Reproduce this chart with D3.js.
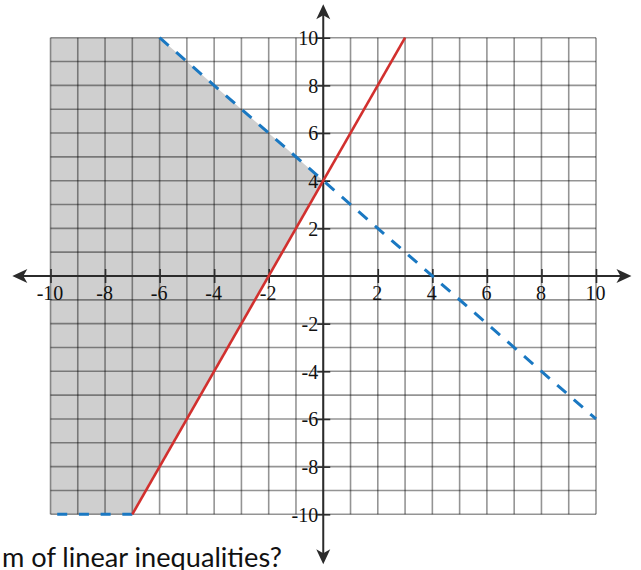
<!DOCTYPE html>
<html>
<head>
<meta charset="utf-8">
<script src="https://cdn.jsdelivr.net/npm/d3@7"></script>
<style>
  html, body { margin: 0; padding: 0; background: #fff; }
  svg { display: block; }
</style>
</head>
<body>
<svg id="chart" width="641" height="570"></svg>
<script>
// Coordinate plane with the solution region of two linear inequalities
const gridValues = d3.range(-10, 11, 1);
const xTickValues = [-10, -8, -6, -4, -2, 2, 4, 6, 8, 10];
const yTickValues = [-10, -8, -6, -4, -2, 2, 4, 6, 8, 10];
const xAxisExtent = [-11.4, 11.3];
const yAxisExtent = [-12.1, 11.4];

// y = 2x + 4 (solid boundary)
const solidLinePts = [[-7, -10], [3, 10]];
// y = -x + 4 (dashed boundary)
const dashedLinePts = [[-6, 10], [10, -6]];
// dashed edge along the bottom of the shaded region
const dashedBottomPts = [[-7, -10], [-10, -10]];
// shaded solution region, clipped to the grid
const shadedRegion = [[-10, 10], [-6, 10], [0, 4], [-7, -10], [-10, -10]];

const caption = "m of linear inequalities?";

const svg = d3.select("#chart");
const x = d3.scaleLinear().domain([-10, 10]).range([50.5, 596]);
const y = d3.scaleLinear().domain([-10, 10]).range([514.3, 37.7]);
const line = d3.line().x(d => x(d[0])).y(d => y(d[1]));

// shaded region
svg.append("path")
  .attr("d", line(shadedRegion) + "Z")
  .attr("fill", "#cfcfcf");

// grid
const grid = svg.append("g")
  .attr("stroke", "#000")
  .attr("stroke-opacity", 0.42)
  .attr("stroke-width", 1.6);
grid.selectAll("line.v").data(gridValues).join("line")
  .attr("class", "v")
  .attr("x1", d => x(d)).attr("x2", d => x(d))
  .attr("y1", y(10)).attr("y2", y(-10));
grid.selectAll("line.h").data(gridValues).join("line")
  .attr("class", "h")
  .attr("y1", d => y(d)).attr("y2", d => y(d))
  .attr("x1", x(-10)).attr("x2", x(10));

// axes
const axisColor = "#2b2b2b";
const fmt = d => String(d);

const xAxis = svg.append("g")
  .attr("transform", `translate(0,${y(0)})`)
  .call(d3.axisBottom(x).tickValues(xTickValues).tickFormat(fmt).tickSize(7).tickSizeOuter(0));
xAxis.select(".domain").remove();
xAxis.selectAll(".tick line")
  .attr("y1", -7).attr("y2", 7)
  .attr("stroke", axisColor).attr("stroke-width", 1.6);
xAxis.selectAll(".tick text")
  .attr("y", 24).attr("dy", 0).attr("dx", -1)
  .attr("fill", "#111")
  .style("font-family", "'Liberation Serif', 'DejaVu Serif', serif")
  .style("font-size", "20px");

const yAxis = svg.append("g")
  .attr("transform", `translate(${x(0)},0)`)
  .call(d3.axisLeft(y).tickValues(yTickValues).tickFormat(fmt).tickSize(7).tickSizeOuter(0));
yAxis.select(".domain").remove();
yAxis.selectAll(".tick line")
  .attr("x1", -6).attr("x2", 7)
  .attr("stroke", axisColor).attr("stroke-width", 1.6);
yAxis.selectAll(".tick text")
  .attr("x", -5).attr("dy", "0.34em")
  .attr("fill", "#111")
  .style("font-family", "'Liberation Serif', 'DejaVu Serif', serif")
  .style("font-size", "20px");

// axis lines with arrowheads
const arrowLen = 15, arrowHalf = 7;
svg.append("line")
  .attr("x1", x(xAxisExtent[0]) + 10).attr("x2", x(xAxisExtent[1]) - 10)
  .attr("y1", y(0)).attr("y2", y(0))
  .attr("stroke", axisColor).attr("stroke-width", 2);
svg.append("line")
  .attr("y1", y(yAxisExtent[1]) + 10).attr("y2", y(yAxisExtent[0]) - 10)
  .attr("x1", x(0)).attr("x2", x(0))
  .attr("stroke", axisColor).attr("stroke-width", 2);

const arrows = [
  { tip: [x(xAxisExtent[0]), y(0)], dir: [-1, 0] },
  { tip: [x(xAxisExtent[1]), y(0)], dir: [1, 0] },
  { tip: [x(0), y(yAxisExtent[1])], dir: [0, -1] },
  { tip: [x(0), y(yAxisExtent[0])], dir: [0, 1] }
];
svg.selectAll("path.arrow").data(arrows).join("path")
  .attr("class", "arrow")
  .attr("fill", axisColor)
  .attr("d", a => {
    const [tx, ty] = a.tip, [dx, dy] = a.dir;
    const bx = tx - dx * arrowLen, by = ty - dy * arrowLen;
    const px = -dy, py = dx;
    const nx = tx - dx * (arrowLen - 4), ny = ty - dy * (arrowLen - 4);
    return `M${tx},${ty}L${bx + px * arrowHalf},${by + py * arrowHalf}L${nx},${ny}L${bx - px * arrowHalf},${by - py * arrowHalf}Z`;
  });

// boundary lines
svg.append("path")
  .attr("d", line(dashedLinePts))
  .attr("fill", "none")
  .attr("stroke", "#1a78c2")
  .attr("stroke-width", 3)
  .attr("stroke-dasharray", "12 10");
svg.append("path")
  .attr("d", line(dashedBottomPts))
  .attr("fill", "none")
  .attr("stroke", "#1a78c2")
  .attr("stroke-width", 3)
  .attr("stroke-dasharray", "10 11.7");
svg.append("path")
  .attr("d", line(solidLinePts))
  .attr("fill", "none")
  .attr("stroke", "#d2302e")
  .attr("stroke-width", 2.6);

// caption below the plane
svg.append("text")
  .attr("x", 2).attr("y", 567)
  .attr("fill", "#111")
  .attr("textLength", 280)
  .attr("lengthAdjust", "spacingAndGlyphs")
  .style("font-family", "Lato, 'Liberation Sans', sans-serif")
  .style("font-size", "26px")
  .text(caption);
</script>
</body>
</html>
